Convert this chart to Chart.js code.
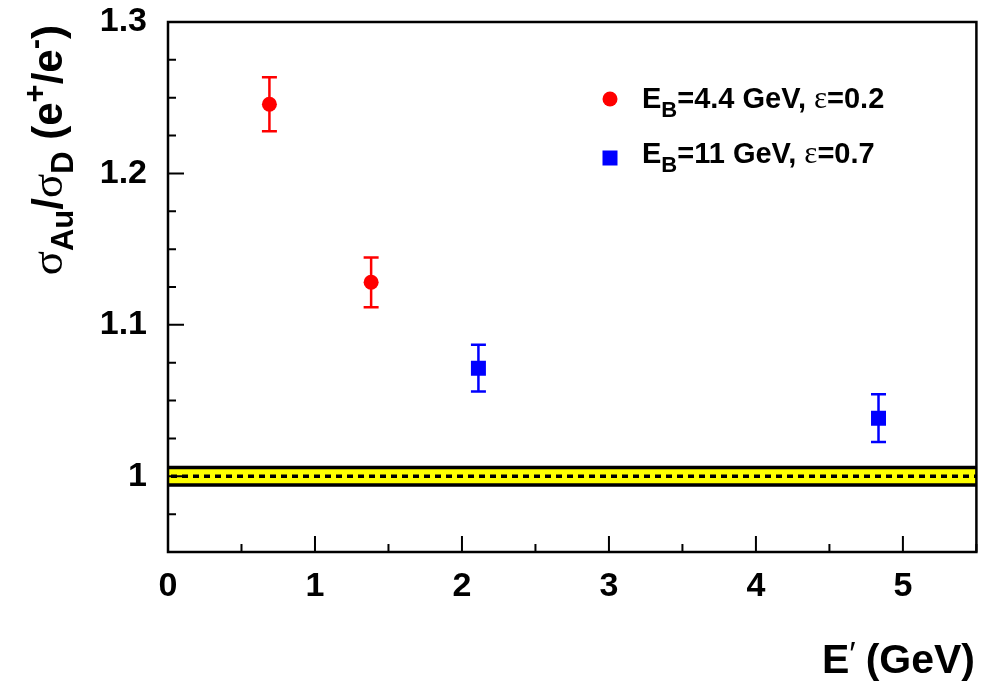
<!DOCTYPE html>
<html>
<head>
<meta charset="utf-8">
<script src="https://cdn.jsdelivr.net/npm/chart.js@4/dist/chart.umd.min.js"></script>
<style>
  html, body { margin: 0; padding: 0; background: #fff; }
  #wrap { width: 987px; height: 686px; }
</style>
</head>
<body>
<div id="wrap"><canvas id="c" width="987" height="686"></canvas></div>
<script>
// Au/D cross-section ratio vs scattered energy E'
const lowBeamE     = [0.690, 1.382];
const lowBeamRatio = [1.2457, 1.1281];
const lowBeamErr   = [0.0178, 0.0164];

const highBeamE     = [2.112, 4.834];
const highBeamRatio = [1.0714, 1.0384];
const highBeamErr   = [0.0154, 0.0157];

const xTickValues = [0, 1, 2, 3, 4, 5];
const xTickLabels = ['0', '1', '2', '3', '4', '5'];
const yTickValues = [1.0, 1.1, 1.2, 1.3];
const yTickLabels = ['1', '1.1', '1.2', '1.3'];

// normalisation reference and its uncertainty band
const normValue = 1.0;
const normBand  = 0.0058;

const SANS  = '"Liberation Sans", Arial, Helvetica, sans-serif';
const SERIF = '"Liberation Serif", "Times New Roman", serif';

function fontOf(s) {
  return (s.bold ? 'bold ' : '') + s.size + 'px ' + (s.family || SANS);
}

// draw a run of text pieces (sub/superscripts) along one baseline
function drawRich(ctx, segs, x, y, align) {
  let total = 0;
  segs.forEach(s => {
    ctx.font = fontOf(s);
    s.w = ctx.measureText(s.t).width;
    total += s.w + (s.gap || 0);
  });
  let cx = align === 'right' ? x - total : x;
  ctx.textBaseline = 'alphabetic';
  ctx.textAlign = 'left';
  segs.forEach(s => {
    ctx.font = fontOf(s);
    ctx.fillText(s.t, cx, y + (s.dy || 0));
    cx += s.w + (s.gap || 0);
  });
}

const toPoints = (xs, ys) => xs.map((x, i) => ({ x: x, y: ys[i] }));

const errorBars = {
  id: 'errorBars',
  afterDatasetsDraw(chart) {
    const ctx = chart.ctx;
    const xs = chart.scales.x, ys = chart.scales.y;
    chart.data.datasets.forEach((ds) => {
      if (!ds.errors) return;
      ctx.save();
      ctx.strokeStyle = ds.borderColor;
      ctx.lineWidth = 2.5;
      ds.data.forEach((p, i) => {
        const px = xs.getPixelForValue(p.x);
        const top = ys.getPixelForValue(p.y + ds.errors[i]);
        const bot = ys.getPixelForValue(p.y - ds.errors[i]);
        const cap = 7.5;
        ctx.beginPath();
        ctx.moveTo(px, top); ctx.lineTo(px, bot);
        ctx.moveTo(px - cap, top); ctx.lineTo(px + cap, top);
        ctx.moveTo(px - cap, bot); ctx.lineTo(px + cap, bot);
        ctx.stroke();
      });
      ctx.restore();
    });
  }
};

const normalisationBand = {
  id: 'normalisationBand',
  beforeDatasetsDraw(chart) {
    const ctx = chart.ctx, a = chart.chartArea, ys = chart.scales.y;
    const yHi = ys.getPixelForValue(normValue + normBand);
    const yLo = ys.getPixelForValue(normValue - normBand);
    const yMid = ys.getPixelForValue(normValue);
    ctx.save();
    ctx.fillStyle = '#ffff00';
    ctx.fillRect(a.left, yHi, a.right - a.left, yLo - yHi);
    ctx.strokeStyle = '#000';
    ctx.lineWidth = 3.5;
    ctx.beginPath();
    ctx.moveTo(a.left, yHi); ctx.lineTo(a.right, yHi);
    ctx.moveTo(a.left, yLo); ctx.lineTo(a.right, yLo);
    ctx.stroke();
    ctx.lineWidth = 3.5;
    ctx.setLineDash([6, 5]);
    ctx.beginPath();
    ctx.moveTo(a.left + 3, yMid); ctx.lineTo(a.right, yMid);
    ctx.stroke();
    ctx.restore();
  }
};

const frameAndText = {
  id: 'frameAndText',
  afterDraw(chart) {
    const ctx = chart.ctx, a = chart.chartArea;
    const xs = chart.scales.x, ys = chart.scales.y;
    ctx.save();
    ctx.strokeStyle = '#000';
    ctx.fillStyle = '#000';

    // inward ticks on the bottom and left edges
    ctx.lineWidth = 2;
    ctx.beginPath();
    for (let v = xs.min; v <= xs.max + 1e-9; v += 0.5) {
      const px = xs.getPixelForValue(v);
      const major = Math.abs(v - Math.round(v)) < 1e-6;
      ctx.moveTo(px, a.bottom);
      ctx.lineTo(px, a.bottom - (major ? 16 : 8));
    }
    for (let k = 0; k <= 14; k++) {
      const v = ys.min + k * 0.025;
      const py = ys.getPixelForValue(v);
      const major = Math.abs(v * 10 - Math.round(v * 10)) < 1e-6;
      ctx.moveTo(a.left, py);
      ctx.lineTo(a.left + (major ? 16 : 8), py);
    }
    ctx.stroke();

    // frame
    ctx.lineWidth = 2.5;
    ctx.strokeRect(a.left, a.top, a.right - a.left, a.bottom - a.top);

    // x-axis title
    drawRich(ctx, [
      { t: 'E', size: 41, bold: true },
      { t: '\u2032', size: 34, bold: false, dy: -8, gap: 10 },
      { t: '(GeV)', size: 41, bold: true }
    ], 975, 673, 'right');

    // y-axis title, rotated
    ctx.save();
    ctx.translate(62, 25);
    ctx.rotate(-Math.PI / 2);
    drawRich(ctx, [
      { t: '\u03c3', size: 45, family: SERIF },
      { t: 'Au', size: 31, bold: true, dy: 11 },
      { t: '/', size: 42, bold: true },
      { t: '\u03c3', size: 45, family: SERIF },
      { t: 'D', size: 31, bold: true, dy: 11 },
      { t: ' (e', size: 42, bold: true },
      { t: '+', size: 31, bold: true, dy: -17 },
      { t: '/e', size: 42, bold: true },
      { t: '-', size: 31, bold: true, dy: -17 },
      { t: ')', size: 42, bold: true }
    ], 0, 0, 'right');
    ctx.restore();

    // legend
    const ds0 = chart.data.datasets[0], ds1 = chart.data.datasets[1];
    ctx.fillStyle = ds0.backgroundColor;
    ctx.beginPath();
    ctx.arc(610, 99, 7.5, 0, Math.PI * 2);
    ctx.fill();
    ctx.fillStyle = ds1.backgroundColor;
    ctx.fillRect(602.5, 150.5, 15, 15);

    ctx.fillStyle = '#000';
    drawRich(ctx, [
      { t: 'E', size: 29, bold: true },
      { t: 'B', size: 22, bold: true, dy: 9 },
      { t: '=4.4 GeV, ', size: 29, bold: true },
      { t: '\u03b5', size: 31, family: SERIF },
      { t: '=0.2', size: 29, bold: true }
    ], 642, 108, 'left');
    drawRich(ctx, [
      { t: 'E', size: 29, bold: true },
      { t: 'B', size: 22, bold: true, dy: 9 },
      { t: '=11 GeV, ', size: 29, bold: true },
      { t: '\u03b5', size: 31, family: SERIF },
      { t: '=0.7', size: 29, bold: true }
    ], 642, 163, 'left');

    ctx.restore();
  }
};

new Chart(document.getElementById('c'), {
  type: 'scatter',
  data: {
    datasets: [
      {
        label: 'E_B=4.4 GeV, \u03b5=0.2',
        data: toPoints(lowBeamE, lowBeamRatio),
        errors: lowBeamErr,
        pointStyle: 'circle',
        pointRadius: 7.5,
        backgroundColor: '#ff0000',
        borderColor: '#ff0000',
        borderWidth: 0
      },
      {
        label: 'E_B=11 GeV, \u03b5=0.7',
        data: toPoints(highBeamE, highBeamRatio),
        errors: highBeamErr,
        pointStyle: 'rect',
        pointRadius: 10.6,
        backgroundColor: '#0000ff',
        borderColor: '#0000ff',
        borderWidth: 0
      }
    ]
  },
  options: {
    responsive: false,
    devicePixelRatio: 1,
    animation: false,
    layout: { padding: { top: 22, right: 8, left: 0, bottom: 0 } },
    plugins: { legend: { display: false }, tooltip: { enabled: false } },
    scales: {
      x: {
        type: 'linear',
        min: 0, max: 5.5,
        grid: { display: false, drawTicks: false },
        border: { display: false },
        afterBuildTicks(scale) { scale.ticks = xTickValues.map(v => ({ value: v })); },
        afterFit(scale) { scale.height = 134; scale.paddingLeft = 0; scale.paddingRight = 0; },
        ticks: {
          padding: 14,
          color: '#000',
          font: { family: SANS, size: 34, weight: 'bold' },
          callback: (v) => { const i = xTickValues.indexOf(v); return i >= 0 ? xTickLabels[i] : ''; }
        }
      },
      y: {
        type: 'linear',
        min: 0.95, max: 1.3,
        grid: { display: false, drawTicks: false },
        border: { display: false },
        afterBuildTicks(scale) { scale.ticks = yTickValues.map(v => ({ value: v })); },
        afterFit(scale) { scale.width = 168; scale.paddingTop = 0; scale.paddingBottom = 0; },
        ticks: {
          padding: 21,
          color: '#000',
          font: { family: SANS, size: 34, weight: 'bold' },
          callback: (v) => { const i = yTickValues.findIndex(t => Math.abs(t - v) < 1e-9); return i >= 0 ? yTickLabels[i] : ''; }
        }
      }
    }
  },
  plugins: [normalisationBand, errorBars, frameAndText]
});
</script>
</body>
</html>
